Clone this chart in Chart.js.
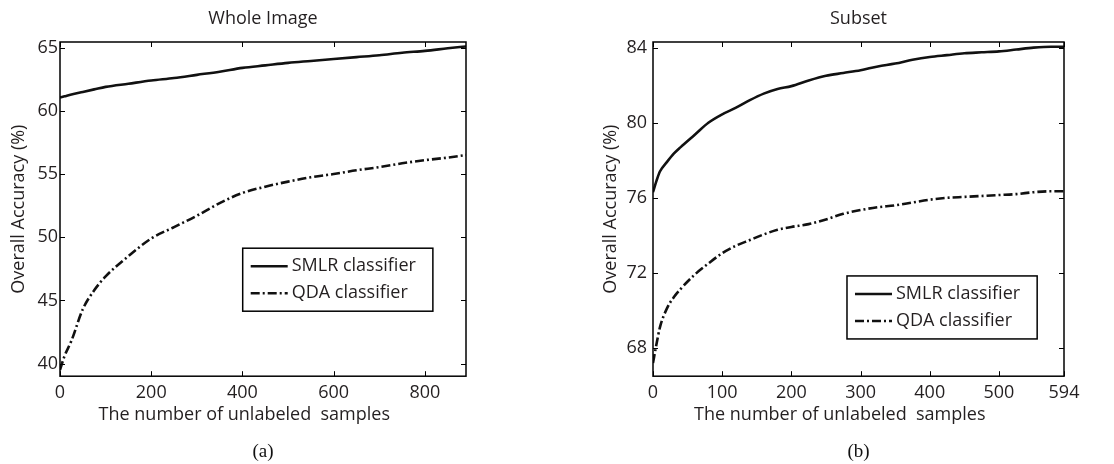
<!DOCTYPE html>
<html>
<head>
<meta charset="utf-8">
<script src="https://cdn.jsdelivr.net/npm/chart.js@4.4.1/dist/chart.umd.min.js"></script>
<style>
  html, body { margin: 0; padding: 0; background: #fff; }
  .wrap { position: relative; width: 1114px; height: 464px; }
  .panel { position: absolute; top: 0; width: 557px; height: 464px; }
</style>
</head>
<body>
<div class="wrap">
  <div class="panel" style="left:0"><canvas id="whole" width="557" height="464"></canvas></div>
  <div class="panel" style="left:557px"><canvas id="subset" width="557" height="464"></canvas></div>
</div>
<script>
// (a) Whole Image
const wholeSamples = [0, 10, 25, 50, 75, 100, 150, 200, 250, 300, 350, 400, 450, 500, 550, 600, 650, 700, 750, 800, 850, 890];
const wholeSmlr = [61.05, 61.15, 61.3, 61.5, 61.7, 61.9, 62.15, 62.4, 62.6, 62.85, 63.1, 63.4, 63.6, 63.8, 63.95, 64.1, 64.25, 64.4, 64.6, 64.75, 64.95, 65.1];
const wholeQda = [39.5, 40.6, 41.8, 44.3, 45.8, 46.9, 48.5, 49.9, 50.8, 51.7, 52.7, 53.5, 54.0, 54.4, 54.75, 55.0, 55.3, 55.55, 55.85, 56.1, 56.3, 56.5];
const wholeXTicks = [0, 200, 400, 600, 800];
const wholeYTicks = [40, 45, 50, 55, 60, 65];

// (b) Subset
const subsetSamples = [0, 5, 10, 20, 30, 40, 60, 80, 100, 120, 140, 160, 180, 200, 225, 250, 275, 300, 325, 350, 375, 400, 425, 450, 475, 500, 525, 550, 575, 594];
const subsetSmlr = [76.3, 76.9, 77.4, 77.9, 78.35, 78.7, 79.35, 80.0, 80.45, 80.8, 81.2, 81.55, 81.8, 81.95, 82.25, 82.5, 82.65, 82.8, 83.0, 83.15, 83.35, 83.5, 83.6, 83.7, 83.75, 83.8, 83.9, 84.0, 84.05, 84.05];
const subsetQda = [67.2, 68.2, 69.1, 70.1, 70.7, 71.15, 71.9, 72.5, 73.05, 73.45, 73.75, 74.05, 74.3, 74.45, 74.6, 74.85, 75.15, 75.35, 75.5, 75.6, 75.75, 75.9, 76.0, 76.05, 76.1, 76.15, 76.2, 76.3, 76.35, 76.35];
const subsetXTicks = [0, 100, 200, 300, 400, 500, 594];
const subsetYTicks = [68, 72, 76, 80, 84];

const seriesNames = ['SMLR classifier', 'QDA classifier'];
// trailing spaces keep the label a bit left of the axis centre, as in the original
const xLabel = 'The number of unlabeled  samples' + '\u00a0'.repeat(8);
const yLabel = 'Overall Accuracy (%)';

const textColor = '#231f20';
const sans = { family: 'Open Sans', size: 18, weight: 'normal' };

// matlab style box with inward ticks on all four sides
const matlabFrame = {
  id: 'matlabFrame',
  afterDatasetsDraw(chart) {
    const { ctx, chartArea: a, scales } = chart;
    ctx.save();
    ctx.strokeStyle = '#000';
    ctx.lineWidth = 1;
    ctx.beginPath();
    scales.x.ticks.forEach(t => {
      const px = Math.round(scales.x.getPixelForValue(t.value)) + 0.5;
      ctx.moveTo(px, a.bottom); ctx.lineTo(px, a.bottom - 5);
      ctx.moveTo(px, a.top); ctx.lineTo(px, a.top + 5);
    });
    scales.y.ticks.forEach(t => {
      const py = Math.round(scales.y.getPixelForValue(t.value)) + 0.5;
      ctx.moveTo(a.left, py); ctx.lineTo(a.left + 5, py);
      ctx.moveTo(a.right, py); ctx.lineTo(a.right - 5, py);
    });
    ctx.stroke();
    ctx.lineWidth = 1.5;
    ctx.strokeRect(a.left, a.top, a.width, a.height);
    ctx.restore();
  }
};

// legend box drawn inside the plot area
const boxLegend = {
  id: 'boxLegend',
  afterDraw(chart, args, opts) {
    const { ctx, chartArea: a } = chart;
    const items = chart.data.datasets;
    ctx.save();
    ctx.font = `${sans.size}px "${sans.family}"`;
    const textW = Math.max(...items.map(d => ctx.measureText(d.label).width));
    const w = 8 + 37 + 5 + textW + 16;
    const h = 63;
    const x0 = a.left + opts.x * a.width;
    const y0 = a.top + opts.y * a.height;
    ctx.fillStyle = '#fff';
    ctx.fillRect(x0, y0, w, h);
    ctx.lineWidth = 1.5;
    ctx.strokeStyle = '#000';
    ctx.strokeRect(x0, y0, w, h);
    items.forEach((d, i) => {
      const cy = y0 + 18 + i * 27;
      ctx.beginPath();
      ctx.setLineDash(d.borderDash || []);
      ctx.lineWidth = d.borderWidth;
      ctx.strokeStyle = d.borderColor;
      ctx.moveTo(x0 + 8, cy);
      ctx.lineTo(x0 + 45, cy);
      ctx.stroke();
      ctx.setLineDash([]);
      ctx.fillStyle = textColor;
      ctx.textBaseline = 'middle';
      ctx.fillText(d.label, x0 + 49, cy);
    });
    ctx.restore();
  }
};

function makeChart(id, o) {
  const toPts = ys => o.samples.map((x, i) => ({ x: x, y: ys[i] }));
  return new Chart(document.getElementById(id), {
    type: 'line',
    data: {
      datasets: [
        { label: seriesNames[0], data: toPts(o.smlr), borderColor: '#111', borderWidth: 2.6, borderDash: [] },
        { label: seriesNames[1], data: toPts(o.qda), borderColor: '#111', borderWidth: 2.6, borderDash: [9, 3, 2, 3] }
      ]
    },
    options: {
      responsive: false,
      animation: false,
      devicePixelRatio: 1,
      layout: { padding: { left: o.padLeft, right: o.padRight, top: 0, bottom: 0 } },
      elements: { point: { radius: 0 }, line: { cubicInterpolationMode: 'monotone' } },
      scales: {
        x: {
          type: 'linear', min: o.xMin, max: o.xMax,
          afterBuildTicks: s => { s.ticks = o.xTicks.map(v => ({ value: v })); },
          afterFit: s => { s.height = 64; },
          grid: { display: false, drawTicks: false },
          border: { display: false },
          ticks: { padding: 6, color: textColor, font: sans, maxRotation: 0, autoSkip: false },
          title: { display: true, text: xLabel, color: textColor, font: sans, padding: { top: 0, bottom: 15 } }
        },
        y: {
          min: o.yMin, max: o.yMax,
          afterBuildTicks: s => { s.ticks = o.yTicks.map(v => ({ value: v })); },
          afterFit: s => { s.width = o.yWidth; },
          grid: { display: false, drawTicks: false },
          border: { display: false },
          ticks: { padding: o.yTickPad, color: textColor, font: sans, autoSkip: false },
          title: { display: true, text: yLabel, color: textColor, font: sans, padding: { top: 8, bottom: 0 } }
        }
      },
      plugins: {
        legend: { display: false },
        tooltip: { enabled: false },
        title: { display: true, fullSize: false, text: o.title, color: textColor, font: sans, padding: { top: 8, bottom: 12.4 } },
        subtitle: { display: true, fullSize: false, position: 'bottom', text: o.caption, color: '#111', font: { family: 'Liberation Serif', size: 19, weight: 'normal' }, padding: { top: 0, bottom: 1 } },
        boxLegend: o.legendAt
      }
    },
    plugins: [matlabFrame, boxLegend]
  });
}

makeChart('whole', {
  samples: wholeSamples, smlr: wholeSmlr, qda: wholeQda,
  xTicks: wholeXTicks, yTicks: wholeYTicks,
  xMin: 0, xMax: 890, yMin: 39, yMax: 65.45,
  title: 'Whole Image', caption: '(a)',
  padLeft: 0, padRight: 91, yWidth: 60, yTickPad: 2,
  legendAt: { x: 0.45, y: 0.617 }
});

makeChart('subset', {
  samples: subsetSamples, smlr: subsetSmlr, qda: subsetQda,
  xTicks: subsetXTicks, yTicks: subsetYTicks,
  xMin: 0, xMax: 594, yMin: 66.5, yMax: 84.3,
  title: 'Subset', caption: '(b)',
  padLeft: 35, padRight: 50, yWidth: 61, yTickPad: 6,
  legendAt: { x: 0.472, y: 0.70 }
});
</script>
</body>
</html>
